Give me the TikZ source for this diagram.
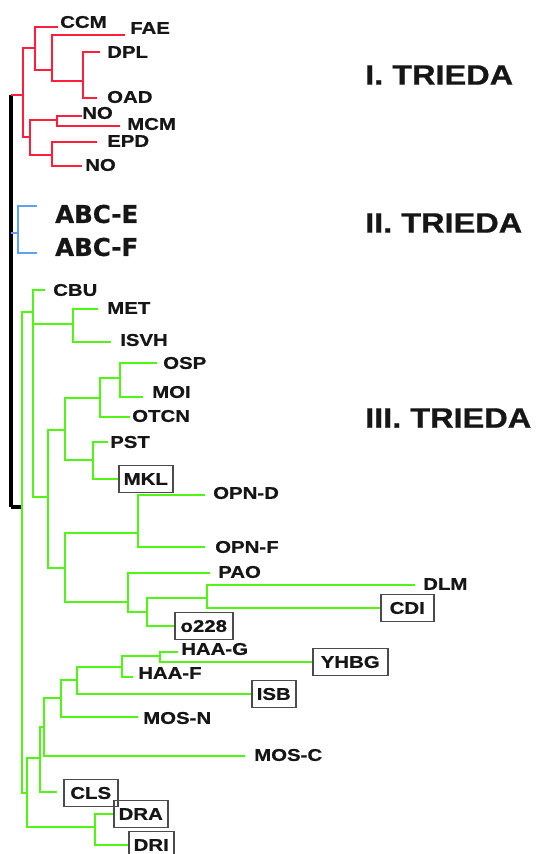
\documentclass[tikz,border=0pt]{standalone}
\usepackage{fontspec}
\newfontfamily\labf[FakeStretch=1.2,FakeBold=0.8]{Liberation Sans}
\newfontfamily\trif[FakeStretch=1.16,FakeBold=0.8]{Liberation Sans}
\newfontfamily\abcf[FakeBold=0.8]{DejaVu Sans}
\definecolor{tred}{RGB}{255,30,60}
\definecolor{tgreen}{RGB}{80,245,20}
\definecolor{tblue}{RGB}{95,160,240}
\definecolor{ink}{RGB}{22,22,22}
\definecolor{boxc}{RGB}{75,75,75}
\begin{document}
\begin{tikzpicture}[x=1pt,y=-1pt,
  lab/.style={anchor=west,inner sep=0pt,text=ink,font=\labf\bfseries\fontsize{17}{20}\selectfont},
  boxed/.style={lab,draw=boxc,line width=1.5pt,inner xsep=0pt,minimum height=27pt},
  tri/.style={anchor=west,inner sep=0pt,text=ink,font=\trif\bfseries\fontsize{28}{32}\selectfont},
  abc/.style={anchor=west,inner sep=0pt,text=ink,font=\abcf\bfseries\fontsize{24.5}{28}\selectfont},
  rl/.style={draw=tred,line width=2.8pt},
  gl/.style={draw=tgreen,line width=2.8pt},
  bl/.style={draw=tblue,line width=2.8pt},
  kl/.style={draw=black,line width=3.2pt}]
\useasboundingbox (0,0) rectangle (537,854);

% ---------- titles ----------
\node[tri] (t1) at (365,75) {I. TRIEDA};
\node[tri] (t2) at (365,223) {II. TRIEDA};
\node[tri] (t3) at (365,418) {III. TRIEDA};

% ---------- black backbone ----------
\coordinate (k0) at (11,95);
\coordinate (kB) at (11,233);
\coordinate (k1) at (11,507);
\draw[kl] (k0) -- (k1);

% ---------- red clade (I) ----------
\node[lab] (CCM) at (60,22) {CCM};
\node[lab] (FAE) at (130,28) {FAE};
\node[lab] (DPL) at (107,52) {DPL};
\node[lab] (OAD) at (107,97) {OAD};
\node[lab] (NO1) at (82,113) {NO};
\node[lab] (MCM) at (127,124) {MCM};
\node[lab] (EPD) at (107,141) {EPD};
\node[lab] (NO2) at (85,165) {NO};
\coordinate (eCCM) at (58,27);
\coordinate (eFAE) at (125,35);
\coordinate (eDPL) at (100,52);
\coordinate (eOAD) at (97,98);
\coordinate (eNO1) at (82,116);
\coordinate (eMCM) at (120,126);
\coordinate (eEPD) at (97,142);
\coordinate (eNO2) at (82,166);
\coordinate (nR) at (23,95);
\coordinate (nA) at (35,48);
\coordinate (nB) at (52,70);
\coordinate (nC) at (83,81);
\coordinate (nD) at (30,137);
\coordinate (nE) at (57,120);
\coordinate (nF) at (52,155);
\draw[rl] (k0) -- (nR);
\draw[rl] (nR) |- (nA);
\draw[rl] (nR) |- (nD);
\draw[rl] (nA) |- (eCCM);
\draw[rl] (nA) |- (nB);
\draw[rl] (nB) |- (eFAE);
\draw[rl] (nB) |- (nC);
\draw[rl] (nC) |- (eDPL);
\draw[rl] (nC) |- (eOAD);
\draw[rl] (nD) |- (nE);
\draw[rl] (nD) |- (nF);
\draw[rl] (nE) |- (eNO1);
\draw[rl] (nE) |- (eMCM);
\draw[rl] (nF) |- (eEPD);
\draw[rl] (nF) |- (eNO2);

% ---------- blue clade (II) ----------
\node[abc] (ABCE) at (55,214) {ABC-E};
\node[abc] (ABCF) at (55,247) {ABC-F};
\coordinate (nBl) at (18,233);
\coordinate (eABCE) at (37,206);
\coordinate (eABCF) at (37,253);
\draw[bl] (kB) -- (nBl);
\draw[bl] (nBl) |- (eABCE);
\draw[bl] (nBl) |- (eABCF);

% ---------- green clade (III) ----------
\node[lab] (CBU) at (53,290) {CBU};
\node[lab] (MET) at (107,308) {MET};
\node[lab] (ISVH) at (120,340) {ISVH};
\node[lab] (OSP) at (163,363) {OSP};
\node[lab] (MOI) at (152,392) {MOI};
\node[lab] (OTCN) at (132,416) {OTCN};
\node[lab] (PST) at (110,442) {PST};
\node[boxed,minimum width=54pt] (MKL) at (118,479) {MKL};
\node[lab] (OPND) at (213,493) {OPN-D};
\node[lab] (OPNF) at (215,547) {OPN-F};
\node[lab] (PAO) at (218,572) {PAO};
\node[lab] (DLM) at (423,584) {DLM};
\node[boxed,minimum width=53pt] (CDI) at (380,608) {CDI};
\node[boxed,minimum width=58pt] (o228) at (174,626) {o228};
\node[lab] (HAAG) at (181,649) {HAA-G};
\node[boxed,minimum width=75pt] (YHBG) at (312,662) {YHBG};
\node[lab] (HAAF) at (138,673) {HAA-F};
\node[boxed,minimum width=44pt] (ISB) at (251,694) {ISB};
\node[lab] (MOSN) at (143,718) {MOS-N};
\node[lab] (MOSC) at (254,755) {MOS-C};
\node[boxed,minimum width=54pt] (CLS) at (63,793) {CLS};
\node[boxed,minimum width=54pt] (DRA) at (113,814) {DRA};
\node[boxed,minimum width=45pt] (DRI) at (128,845) {DRI};

\coordinate (eCBU) at (45,290);
\coordinate (eMET) at (98,309);
\coordinate (eISVH) at (111,342);
\coordinate (eOSP) at (157,363);
\coordinate (eMOI) at (143,397);
\coordinate (eOTCN) at (130,417);
\coordinate (ePST) at (108,442);
\coordinate (eOPND) at (205,495);
\coordinate (eOPNF) at (205,547);
\coordinate (ePAO) at (210,573);
\coordinate (eDLM) at (415,585);
\coordinate (eHAAG) at (178,652);
\coordinate (eHAAF) at (133,677);
\coordinate (eMOSN) at (138,717);
\coordinate (eMOSC) at (245,756);
\coordinate (eCLS) at (57,792);

\coordinate (nG0) at (22,507);
\coordinate (nG1) at (33,312);
\coordinate (nMI) at (73,324);
\coordinate (nG2) at (48,497);
\coordinate (nG3) at (65,430);
\coordinate (nOO) at (100,398);
\coordinate (nOM) at (120,378);
\coordinate (nPM) at (93,460);
\coordinate (nG4) at (65,568);
\coordinate (nOPN) at (138,533);
\coordinate (nPAO) at (128,602);
\coordinate (nX) at (147,612);
\coordinate (nDC) at (207,598);
\coordinate (nL1) at (27,793);
\coordinate (nL2) at (40,758);
\coordinate (nL3) at (44,727);
\coordinate (nL4) at (61,698);
\coordinate (nL5) at (77,680);
\coordinate (nL6) at (122,667);
\coordinate (nL7) at (160,656);
\coordinate (nDR) at (95,827);

\draw[kl] (k1) -- (nG0);
\draw[gl] (nG0) |- (nG1);
\draw[gl] (nG0) |- (nL1);
\draw[gl] (nG1) |- (eCBU);
\draw[gl] (nG1) |- (nG2);
\draw[gl] (nG1 |- nMI) -- (nMI);
\draw[gl] (nMI) |- (eMET);
\draw[gl] (nMI) |- (eISVH);
\draw[gl] (nG2) |- (nG3);
\draw[gl] (nG2) |- (nG4);
\draw[gl] (nG3) |- (nOO);
\draw[gl] (nG3) |- (nPM);
\draw[gl] (nOO) |- (nOM);
\draw[gl] (nOO) |- (eOTCN);
\draw[gl] (nOM) |- (eOSP);
\draw[gl] (nOM) |- (eMOI);
\draw[gl] (nPM) |- (ePST);
\draw[gl] (nPM) |- (MKL.west);
\draw[gl] (nG4) |- (nOPN);
\draw[gl] (nG4) |- (nPAO);
\draw[gl] (nOPN) |- (eOPND);
\draw[gl] (nOPN) |- (eOPNF);
\draw[gl] (nPAO) |- (ePAO);
\draw[gl] (nPAO) |- (nX);
\draw[gl] (nX) |- (nDC);
\draw[gl] (nX) |- (o228.west);
\draw[gl] (nDC) |- (eDLM);
\draw[gl] (nDC) |- (CDI.west);
\draw[gl] (nL1) |- (nL2);
\draw[gl] (nL1) |- (nDR);
\draw[gl] (nL2) |- (nL3);
\draw[gl] (nL2) |- (eCLS);
\draw[gl] (nL3) |- (nL4);
\draw[gl] (nL3) |- (eMOSC);
\draw[gl] (nL4) |- (nL5);
\draw[gl] (nL4) |- (eMOSN);
\draw[gl] (nL5) |- (nL6);
\draw[gl] (nL5) |- (ISB.west);
\draw[gl] (nL6) |- (nL7);
\draw[gl] (nL6) |- (eHAAF);
\draw[gl] (nL7) |- (eHAAG);
\draw[gl] (nL7) |- (YHBG.west);
\draw[gl] (nDR) |- (DRA.west);
\draw[gl] (nDR) |- (DRI.west);
\end{tikzpicture}
\end{document}
